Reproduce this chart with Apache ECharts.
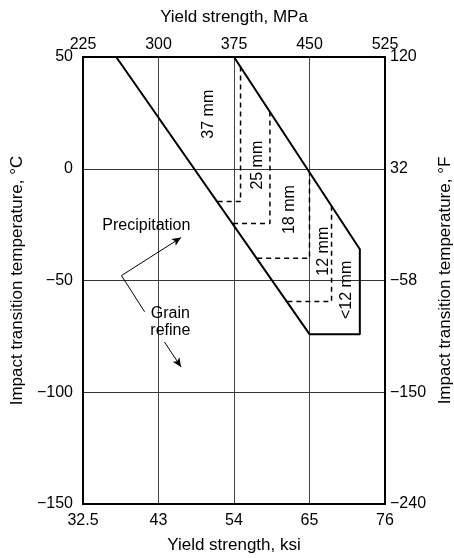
<!DOCTYPE html>
<html>
<head>
<meta charset="utf-8">
<script src="https://cdn.jsdelivr.net/npm/echarts@6/dist/echarts.min.js"></script>
<style>
  html, body { margin: 0; padding: 0; background: #fff; }
  #chart { width: 454px; height: 558px; }
</style>
</head>
<body>
<div id="chart"></div>
<script>
// Yield strength axis (MPa) with matching ksi tick labels
const mpaTicks = [225, 300, 375, 450, 525];
const ksiLabels = ['32.5', '43', '54', '65', '76'];
// Transition temperature axis (°C) with matching °F tick labels
const celsiusTicks = [50, 0, -50, -100, -150];
const fahrenheitLabels = ['120', '32', '\u221258', '\u2212150', '\u2212240'];

// Outline of the strength/temperature band: [MPa, °C]
const bandOutline = [[258, 50], [450, -74], [500, -74], [500, -36], [375, 50]];

// Plate-thickness steps (dashed): [MPa, °C]
const step37 = [[358.8, -14.7], [381.5, -14.7], [381.5, 45.5]];
const step25 = [[374, -24.5], [410.7, -24.5], [410.7, 25.4]];
const step18 = [[398, -40], [450, -40], [450, -1.6]];
const step12 = [[428, -59.4], [471.9, -59.4], [471.9, -16.7]];

// Thickness labels placed inside the band: [MPa, °C, text]
const thicknessLabels = [
  [349.3, 24.4, '37 mm'],
  [398.4, 1.6, '25 mm'],
  [430.5, -18.3, '18 mm'],
  [464.4, -36.9, '12 mm'],
  [487, -54.2, '<12 mm']
];

// Mechanism annotations: [MPa, °C, text]
const mechanismLabels = [
  [287.9, -25.6, 'Precipitation'],
  [311.8, -68.5, 'Grain\nrefine']
];
// Arrow from the common vertex to the precipitation direction, and the grain-refine arrow
const arrowSegments = [
  [[263.2, -47.8], [322.4, -30.8]],
  [[305.9, -77.5], [322.4, -88.7]]
];
// Leader line from the vertex to the grain-refine label
const leaderSegments = [
  [[263.2, -47.8], [286.2, -64]]
];

const FONT = '"Liberation Sans", Arial, Helvetica, sans-serif';
const TICK_SIZE = 16;
const NAME_SIZE = 17;
const toMinus = v => String(v).replace('-', '\u2212');

const chart = echarts.init(document.getElementById('chart'), null, { renderer: 'canvas' });

const dashed = { color: '#000', width: 1.5, type: [5, 4] };
function stepSeries(data) {
  return {
    type: 'line', data, xAxisIndex: 0, yAxisIndex: 0,
    symbol: 'none', lineStyle: dashed, z: 3, silent: true
  };
}
const nameStyle = { fontSize: NAME_SIZE, fontFamily: FONT, color: '#000' };
const frameLine = { show: true, onZero: false, lineStyle: { color: '#000', width: 2 } };
const plainText = {
  fontSize: TICK_SIZE, fontFamily: FONT, color: '#000',
  textBorderWidth: 0, textShadowBlur: 0
};

const option = {
  animation: false,
  backgroundColor: '#fff',
  textStyle: { fontFamily: FONT, color: '#000' },
  grid: {
    left: 83, right: 69, top: 57, bottom: 54,
    containLabel: false, outerBoundsMode: 'none'
  },
  xAxis: [
    {
      type: 'value', position: 'bottom', min: 225, max: 525, interval: 75,
      name: 'Yield strength, ksi', nameLocation: 'middle', nameGap: 33,
      nameTextStyle: nameStyle,
      axisLine: frameLine,
      axisTick: { show: false },
      axisLabel: {
        fontSize: TICK_SIZE, fontFamily: FONT, color: '#000', margin: 9,
        formatter: v => ksiLabels[mpaTicks.indexOf(v)]
      },
      splitLine: { show: true, lineStyle: { color: '#444', width: 1 } }
    },
    {
      type: 'value', position: 'top', min: 225, max: 525, interval: 75,
      name: 'Yield strength, MPa', nameLocation: 'middle', nameGap: 31,
      nameTextStyle: nameStyle,
      axisLine: frameLine,
      axisTick: { show: false },
      axisLabel: { fontSize: TICK_SIZE, fontFamily: FONT, color: '#000', margin: 4 },
      splitLine: { show: false }
    }
  ],
  yAxis: [
    {
      type: 'value', position: 'left', min: -150, max: 50, interval: 50,
      name: 'Impact transition temperature, \u00B0C', nameLocation: 'middle', nameGap: 50,
      nameRotate: 90,
      nameTextStyle: nameStyle,
      axisLine: frameLine,
      axisTick: { show: false },
      axisLabel: { fontSize: TICK_SIZE, fontFamily: FONT, color: '#000', margin: 10, formatter: toMinus },
      splitLine: { show: true, lineStyle: { color: '#333', width: 1 } }
    },
    {
      type: 'value', position: 'right', min: -150, max: 50, interval: 50,
      name: 'Impact transition temperature, \u00B0F', nameLocation: 'middle', nameGap: 47,
      nameRotate: 90,
      nameTextStyle: nameStyle,
      axisLine: frameLine,
      axisTick: { show: false },
      axisLabel: {
        fontSize: TICK_SIZE, fontFamily: FONT, color: '#000', margin: 5,
        formatter: v => fahrenheitLabels[celsiusTicks.indexOf(v)]
      },
      splitLine: { show: false }
    }
  ],
  series: [
    {
      type: 'line', data: bandOutline, xAxisIndex: 0, yAxisIndex: 0,
      symbol: 'none', lineStyle: { color: '#000', width: 2 }, z: 4, silent: true
    },
    stepSeries(step37),
    stepSeries(step25),
    stepSeries(step18),
    stepSeries(step12),
    {
      type: 'scatter', xAxisIndex: 0, yAxisIndex: 0, symbolSize: 0, silent: true, z: 5,
      itemStyle: { opacity: 1 },
      data: thicknessLabels.map(d => ({ value: [d[0], d[1]], name: d[2] })),
      label: Object.assign({
        show: true, position: 'inside', rotate: 90, formatter: p => p.name
      }, plainText)
    },
    {
      type: 'scatter', xAxisIndex: 0, yAxisIndex: 0, symbolSize: 0, silent: true, z: 5,
      itemStyle: { opacity: 1 },
      data: mechanismLabels.map(d => ({ value: [d[0], d[1]], name: d[2] })),
      label: Object.assign({
        show: true, position: 'inside', formatter: p => p.name, align: 'center', lineHeight: 17
      }, plainText)
    },
    {
      type: 'line', data: [], xAxisIndex: 0, yAxisIndex: 0, silent: true,
      markLine: {
        silent: true, animation: false,
        symbol: ['none', 'arrow'], symbolSize: [6, 9],
        label: { show: false },
        lineStyle: { color: '#000', width: 1, type: 'solid' },
        emphasis: { disabled: true },
        data: arrowSegments.map(s => [{ coord: s[0] }, { coord: s[1] }])
      }
    },
    {
      type: 'line', data: [], xAxisIndex: 0, yAxisIndex: 0, silent: true,
      markLine: {
        silent: true, animation: false,
        symbol: ['none', 'none'],
        label: { show: false },
        lineStyle: { color: '#000', width: 1, type: 'solid' },
        emphasis: { disabled: true },
        data: leaderSegments.map(s => [{ coord: s[0] }, { coord: s[1] }])
      }
    }
  ]
};

chart.setOption(option);
</script>
</body>
</html>
